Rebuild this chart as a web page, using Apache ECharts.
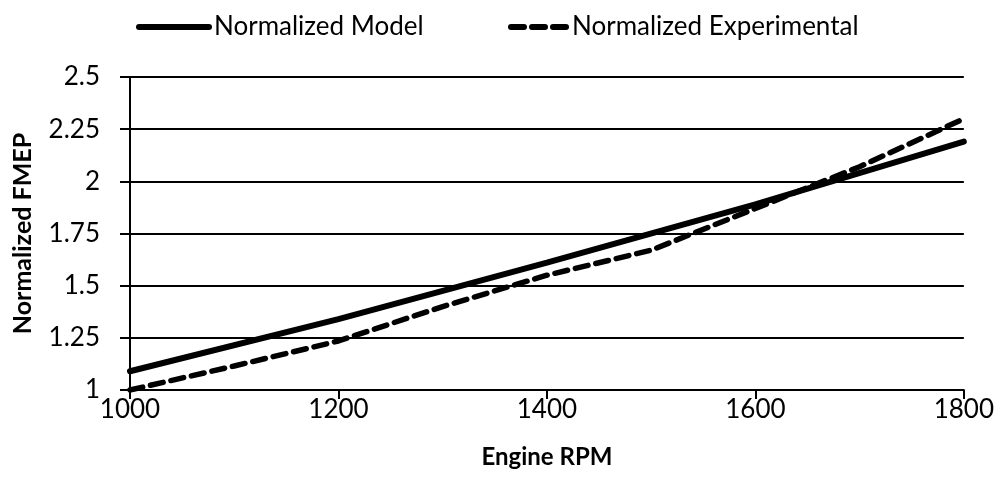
<!DOCTYPE html>
<html lang="en" style="height: 100%">
    <head>
        <meta charset="utf-8">
        <title>Normalized FMEP</title>
    </head>
    <body style="height: 100%; margin: 0; background: #fff">
        <div id="container" style="width: 997px; height: 488px"></div>
        <script src="https://cdn.jsdelivr.net/npm/echarts@6/dist/echarts.min.js"></script>
        <script>
            let modelRpm = [1000, 1200, 1400, 1600, 1800];
            let modelValues = [1.09, 1.34, 1.61, 1.89, 2.19];
            let experimentalRpm = [1000, 1100, 1200, 1300, 1400, 1500, 1600, 1700, 1800];
            let experimentalValues = [1.0, 1.115, 1.235, 1.40, 1.55, 1.67, 1.87, 2.07, 2.30];
            let seriesNames = ["Normalized Model", "Normalized Experimental"];

            function toPairs(xs, ys) {
                let pairs = [];
                for (let index = 0; index < xs.length; index++) {
                    pairs.push([xs[index], ys[index]]);
                }
                return pairs;
            }

            let font = "Lato, 'Open Sans', sans-serif";

            let chart = echarts.init(document.getElementById("container"), null, {
                renderer: "canvas"
            });

            let option = {
                animation: false,
                backgroundColor: "#fff",
                textStyle: { fontFamily: font, color: "#000" },
                legend: [
                    {
                        data: [seriesNames[0]],
                        left: 131,
                        top: 9,
                        itemWidth: 70,
                        itemHeight: 24,
                        itemGap: 0,
                        itemStyle: { opacity: 0 },
                        lineStyle: { width: 6 },
                        textStyle: { fontSize: 26, color: "#000", fontFamily: font }
                    },
                    {
                        data: [seriesNames[1]],
                        left: 503,
                        top: 9,
                        itemWidth: 56,
                        itemHeight: 24,
                        itemGap: 0,
                        itemStyle: { opacity: 0 },
                        lineStyle: { width: 6 },
                        textStyle: { fontSize: 26, color: "#000", fontFamily: font }
                    }
                ],
                grid: {
                    left: 130,
                    right: 32,
                    top: 77,
                    bottom: 98,
                    containLabel: false
                },
                xAxis: {
                    type: "value",
                    min: 1000,
                    max: 1800,
                    interval: 200,
                    name: "Engine RPM",
                    nameLocation: "middle",
                    nameGap: 55,
                    nameTextStyle: { fontSize: 24, fontWeight: "bold", color: "#000", fontFamily: font },
                    axisLine: { show: true, lineStyle: { color: "#000", width: 2 } },
                    axisTick: { show: true, length: 9, lineStyle: { color: "#000", width: 2 } },
                    axisLabel: {
                        fontSize: 26,
                        color: "#000",
                        margin: 7,
                        fontFamily: font,
                        formatter: function (value) {
                            return String(value);
                        }
                    },
                    splitLine: { show: false }
                },
                yAxis: {
                    type: "value",
                    min: 1,
                    max: 2.5,
                    interval: 0.25,
                    name: "Normalized FMEP",
                    nameLocation: "middle",
                    nameGap: 95,
                    nameTextStyle: { fontSize: 25, fontWeight: "bold", color: "#000", fontFamily: font },
                    axisLine: { show: true, lineStyle: { color: "#000", width: 2 } },
                    axisTick: { show: true, length: 10, lineStyle: { color: "#000", width: 2 } },
                    axisLabel: { fontSize: 26, color: "#000", margin: 30, fontFamily: font },
                    splitLine: { show: true, lineStyle: { color: "#000", width: 2 } }
                },
                series: [
                    {
                        name: seriesNames[0],
                        type: "line",
                        data: toPairs(modelRpm, modelValues),
                        symbol: "none",
                        lineStyle: { color: "#000", width: 6, cap: "round" },
                        itemStyle: { color: "#000" },
                        z: 3
                    },
                    {
                        name: seriesNames[1],
                        type: "line",
                        data: toPairs(experimentalRpm, experimentalValues),
                        symbol: "none",
                        lineStyle: { color: "#000", width: 5.5, type: [13, 8], cap: "round" },
                        itemStyle: { color: "#000" },
                        z: 4
                    }
                ]
            };

            chart.setOption(option);
        </script>
    </body>
</html>
